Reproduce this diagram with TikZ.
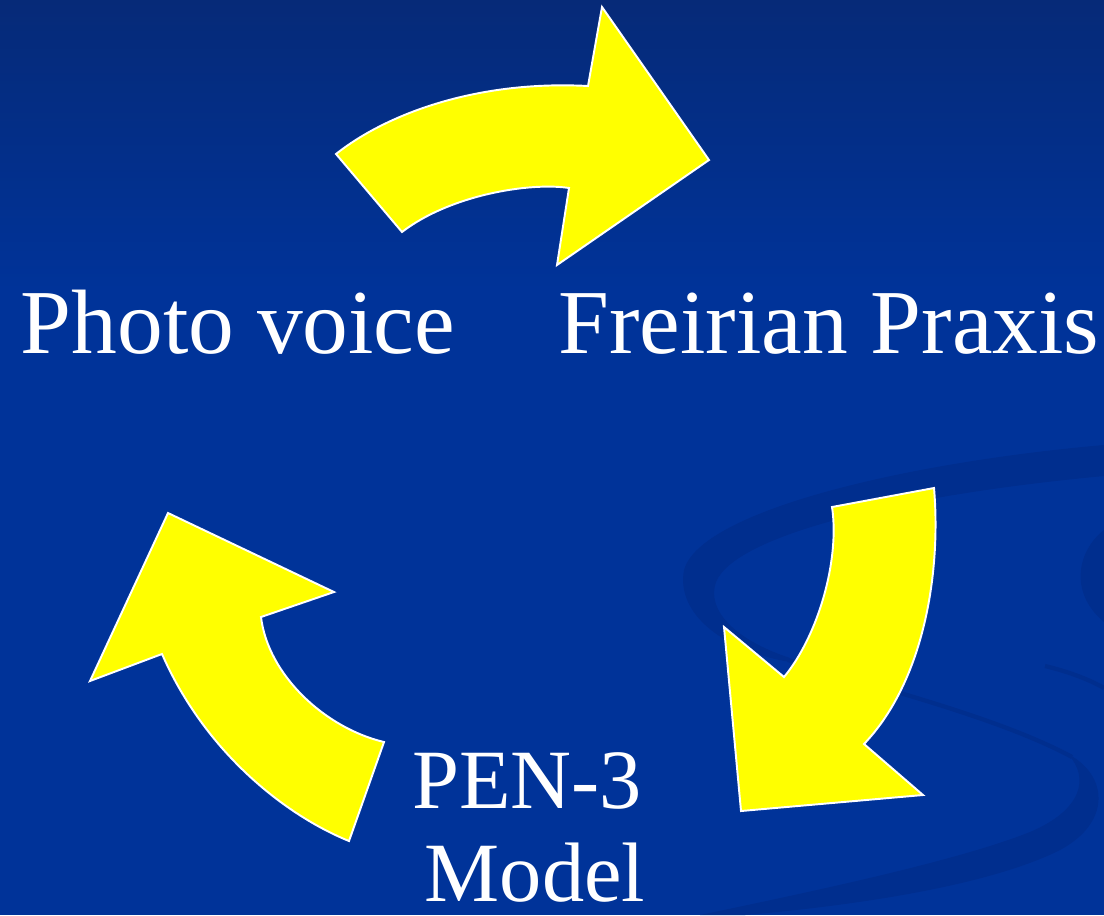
\documentclass[tikz,border=0pt]{standalone}
\usepackage{fontspec}
\setmainfont{Liberation Serif}
\usepackage{tikz}
\definecolor{SlideBlue}{HTML}{003399}
\definecolor{SlideNavy}{HTML}{062A78}
\definecolor{SwirlBlue}{HTML}{002E8E}
\definecolor{Lemon}{HTML}{FFFF00}

\begin{document}
\begin{tikzpicture}[x=0.01cm, y=-0.01cm,
    bigarrow/.style={draw=white, line width=0.55pt, fill=Lemon},
    slidetext/.style={text=white, anchor=base, inner sep=0pt, font=\fontsize{26}{30}\selectfont}]
    \useasboundingbox (0,0) rectangle (1104,915);
    % background and swirl
    \fill[SlideBlue] (0,0) rectangle (1104,915);
    \shade[top color=SlideNavy, bottom color=SlideBlue] (0,0) rectangle (1104,290);
    \fill[SwirlBlue] (1104,445) .. controls (900,463) and (700,512) .. (684,570) .. controls (676,612) and (720,650) .. (790,662)
        -- (790,658) .. controls (735,640) and (706,610) .. (716,582) .. controls (735,535) and (900,495) .. (1104,476) -- cycle;
    \draw[SwirlBlue, line width=1.2pt] (788,660) .. controls (880,688) and (1000,718) .. (1072,757);
    \fill[SwirlBlue] (1068,754) .. controls (1108,775) and (1112,822) .. (1060,850) .. controls (990,885) and (860,905) .. (745,915)
        -- (700,915) .. controls (820,890) and (960,860) .. (1030,832) .. controls (1082,810) and (1090,778) .. (1068,754) -- cycle;
    \fill[SwirlBlue] (1104,530) .. controls (1078,550) and (1068,592) .. (1104,622) -- cycle;
    \draw[SwirlBlue, line width=1.2pt] (1045,666) .. controls (1070,672) and (1090,680) .. (1104,688);

    % three yellow arrows
    \draw[bigarrow] (336,154) .. controls (385,115) and (475,80) .. (588,86) -- (602,7) -- (709,160) -- (557,265)
        -- (569,188) .. controls (530,182) and (450,195) .. (402,232) -- cycle;
    \draw[bigarrow] (832,507) -- (934,488) .. controls (941,570) and (925,680) .. (864,744) -- (923,795) -- (741,811)
        -- (724,627) -- (784,677) .. controls (818,636) and (840,560) .. (832,507) -- cycle;
    \draw[bigarrow] (168,513) -- (334,592) -- (261,617) .. controls (268,675) and (325,728) .. (384,742) -- (349,841)
        .. controls (285,815) and (205,752) .. (162,654) -- (90,681) -- cycle;

    % labels
    \node[slidetext] (photo) at (238,353) {Photo voice};
    \node[slidetext] (freire) at (829,353) {Freirian Praxis};
    \node[slidetext, font=\fontsize{24}{28}\selectfont] (pen) at (527,808) {PEN-3};
    \node[slidetext, font=\fontsize{24}{28}\selectfont] (model) at (535,901) {Model};
\end{tikzpicture}
\end{document}
